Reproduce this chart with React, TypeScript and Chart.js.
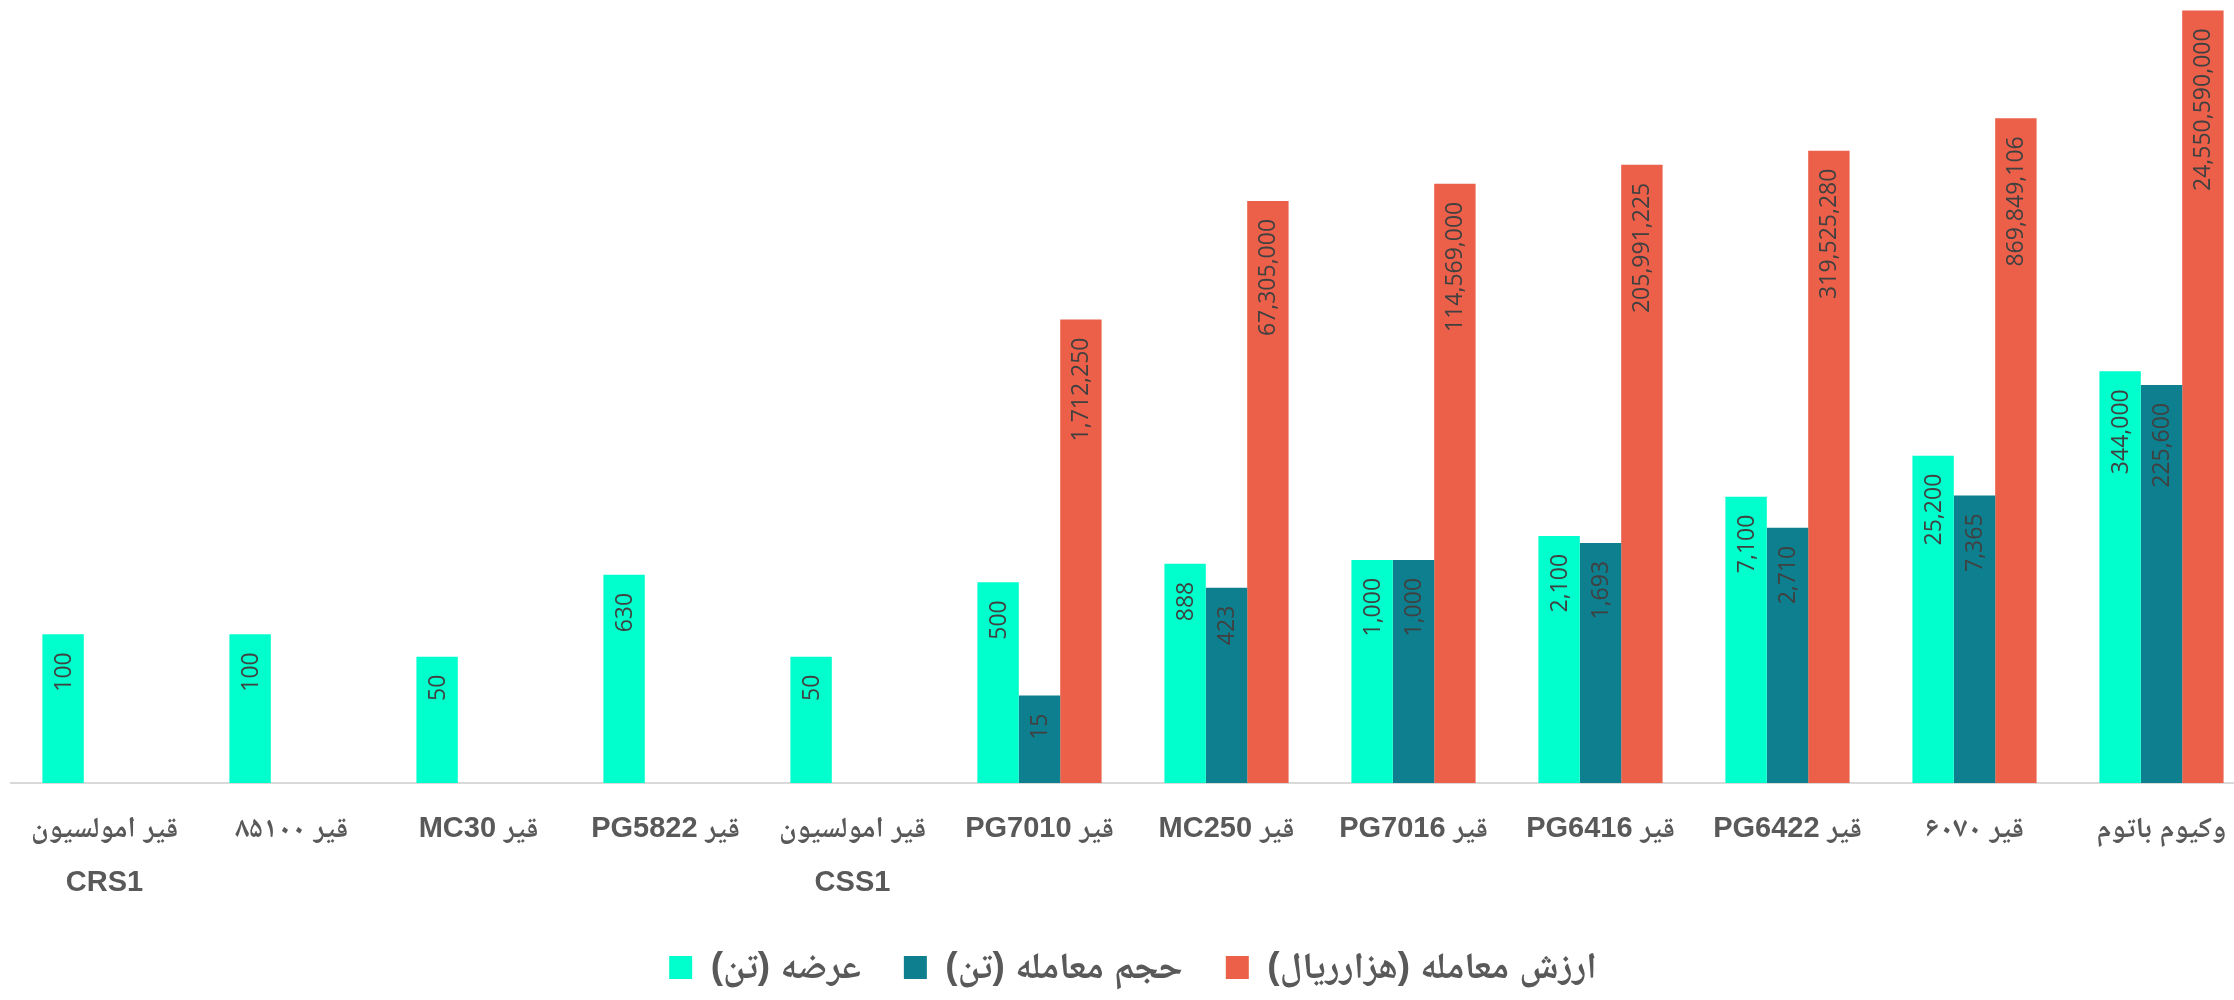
import React, { useEffect, useRef } from "react";
import { Chart, registerables } from "chart.js";

Chart.register(...registerables);

const categories: (string | string[])[] = [
  ["قیر امولسیون", "CRS1"],
  "قیر ۸۵۱۰۰",
  "قیر MC30",
  "قیر PG5822",
  ["قیر امولسیون", "CSS1"],
  "قیر PG7010",
  "قیر MC250",
  "قیر PG7016",
  "قیر PG6416",
  "قیر PG6422",
  "قیر ۶۰۷۰",
  "وکیوم باتوم",
];

const seriesNames = ["عرضه (تن)", "حجم معامله (تن)", "ارزش معامله (هزارریال)"];

const supplyTons: (number | null)[] = [100, 100, 50, 630, 50, 500, 888, 1000, 2100, 7100, 25200, 344000];
const volumeTons: (number | null)[] = [null, null, null, null, null, 15, 423, 1000, 1693, 2710, 7365, 225600];
const valueThousandRial: (number | null)[] = [
  null, null, null, null, null,
  1712250, 67305000, 114569000, 205991225, 319525280, 869849106, 24550590000,
];

const seriesColors = ["#00FFCC", "#0E7F8F", "#EC604A"];

const yMin = 1;
const yMax = 3.39e10;

const FONT_STACK =
  "'Liberation Sans', 'Noto Naskh Arabic', 'Noto Sans Arabic', 'DejaVu Sans Condensed', 'DejaVu Sans', sans-serif";

const dataLabelPlugin = {
  id: "barValueLabels",
  afterDatasetsDraw(chart: any) {
    const ctx = chart.ctx;
    ctx.save();
    ctx.font = "23px 'Open Sans', 'DejaVu Sans', sans-serif";
    ctx.fillStyle = "#404040";
    ctx.textAlign = "right";
    ctx.textBaseline = "middle";
    chart.data.datasets.forEach((ds: any, di: number) => {
      const meta = chart.getDatasetMeta(di);
      meta.data.forEach((el: any, i: number) => {
        const v = ds.data[i];
        if (v === null || v === undefined) return;
        const text = Number(v).toLocaleString("en-US");
        ctx.save();
        ctx.translate(el.x + 1, el.y + 18);
        ctx.rotate(-Math.PI / 2);
        ctx.fillText(text, 0, 0);
        ctx.restore();
      });
    });
    ctx.restore();
  },
};

export default function App() {
  const canvasRef = useRef<HTMLCanvasElement | null>(null);

  useEffect(() => {
    if (!canvasRef.current) return;
    const chart = new Chart(canvasRef.current, {
      type: "bar",
      data: {
        labels: categories,
        datasets: [
          { label: seriesNames[0], data: supplyTons, backgroundColor: seriesColors[0] },
          { label: seriesNames[1], data: volumeTons, backgroundColor: seriesColors[1] },
          { label: seriesNames[2], data: valueThousandRial, backgroundColor: seriesColors[2] },
        ],
      },
      options: {
        animation: false,
        responsive: false,
        maintainAspectRatio: false,
        layout: { padding: { left: 11, right: 15, top: 0, bottom: 4 } },
        datasets: {
          bar: { categoryPercentage: 0.664, barPercentage: 1, borderWidth: 0 },
        },
        scales: {
          x: {
            grid: { display: false, drawTicks: false },
            border: { display: true, color: "#D9D9D9", width: 2 },
            afterFit: (scale: any) => {
              scale.height = scale.height - 23;
            },
            ticks: {
              color: "#595959",
              padding: 19,
              maxRotation: 0,
              autoSkip: false,
              font: {
                family: FONT_STACK,
                size: 29,
                weight: "bold",
                lineHeight: "54px",
              },
            },
          },
          y: {
            type: "logarithmic",
            display: false,
            min: yMin,
            max: yMax,
          },
        },
        plugins: {
          legend: {
            display: true,
            position: "bottom",
            textDirection: "rtl",
            labels: {
              boxWidth: 23,
              boxHeight: 23,
              padding: 43,
              color: "#595959",
              font: {
                family: FONT_STACK,
                size: 37,
                weight: "bold",
              },
            },
          },
          tooltip: { enabled: false },
          title: { display: false },
        },
      },
      plugins: [dataLabelPlugin],
    });
    return () => chart.destroy();
  }, []);

  return (
    <div
      style={{
        position: "fixed",
        left: 0,
        top: 0,
        width: 2234,
        height: 1000,
        overflow: "hidden",
        background: "#ffffff",
      }}
    >
      <canvas
        ref={canvasRef}
        width={2270}
        height={1000}
        dir="rtl"
        style={{ width: 2270, height: 1000, display: "block", direction: "rtl" }}
      />
    </div>
  );
}
